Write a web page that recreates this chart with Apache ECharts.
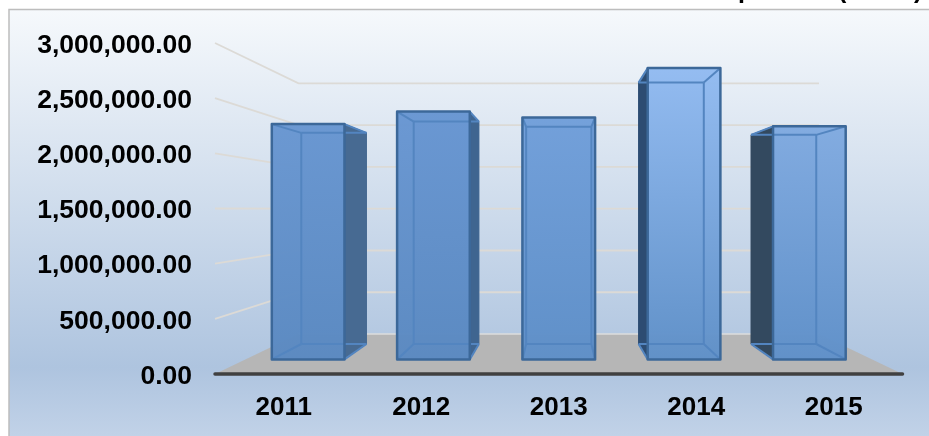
<!DOCTYPE html>
<html>
<head>
<meta charset="utf-8">
<style>html,body{margin:0;padding:0;background:#fff;overflow:hidden}#c{width:929px;height:436px}</style>
<script src="https://cdn.jsdelivr.net/npm/echarts@6/dist/echarts.min.js"></script>
</head>
<body>
<div id="c"></div>
<script>
const categories = ['2011', '2012', '2013', '2014', '2015'];
const values = [2340000, 2465000, 2407000, 2897000, 2318000];
const yTicks = [0, 500000, 1000000, 1500000, 2000000, 2500000, 3000000];

// Style of each bar's faces (top and bottom of the front face, outer side face)
const frontTop = ['#6896d1', '#6896d2', '#719fda', '#92bbf1', '#80aae0'];
const frontBottom = ['#5a89c1', '#5a89c1', '#5e8fc8', '#5f90c8', '#5f90c9'];
const sideColor = ['#476a92', '#3f6590', '#3f6590', '#2d4c72', '#33495f'];

// Oblique projection of the chart's depth
const DEPTH_DROP = 40, BACK_SCALE = 0.757, BAR_FRONT = 0.365, BAR_BACK = 0.75, BAR_WIDTH = 0.58;

function projector(api, params) {
  const cs = params.coordSys;
  const zeroY = api.coord([0, 0])[1];
  const midX = cs.x + cs.width / 2;
  return function (x, y, d) {
    const s = 1 - (1 - BACK_SCALE) * d;
    return [midX + (x - midX) * s, zeroY - DEPTH_DROP * d - (zeroY - y) * s];
  };
}

function renderGrid(params, api) {
  const cs = params.coordSys, P = projector(api, params);
  const y = api.coord([0, api.value(1)])[1];
  const L = cs.x, R = cs.x + cs.width;
  if (api.value(1) === 0) {
    return {
      type: 'group',
      children: [
        { type: 'polygon', shape: { points: [P(L, y, 0), P(L, y, 1), P(R, y, 1), P(R, y, 0)] }, style: { fill: '#b6b6b6' } },
        { type: 'polyline', shape: { points: [P(L, y, 1), P(R, y, 1)] }, style: { stroke: '#dcdcdc', lineWidth: 1.5, fill: null } }
      ]
    };
  }
  return {
    type: 'polyline',
    shape: { points: [P(L, y, 0), P(L, y, 1), P(R, y, 1)] },
    style: { stroke: '#dcdad6', lineWidth: 1.8, fill: null }
  };
}

function renderBar(params, api) {
  const cs = params.coordSys, P = projector(api, params);
  const i = params.dataIndex;
  const pt = api.coord([api.value(0), api.value(1)]);
  const zeroY = api.coord([0, 0])[1];
  const half = api.size([1, 0])[0] * BAR_WIDTH / 2;
  const xl = pt[0] - half, xr = pt[0] + half, yt = pt[1];
  const fBL = P(xl, zeroY, BAR_FRONT), fBR = P(xr, zeroY, BAR_FRONT), fTL = P(xl, yt, BAR_FRONT), fTR = P(xr, yt, BAR_FRONT);
  const bBL = P(xl, zeroY, BAR_BACK), bBR = P(xr, zeroY, BAR_BACK), bTL = P(xl, yt, BAR_BACK), bTR = P(xr, yt, BAR_BACK);
  const edge = '#3c6899', inner = '#5385c0';
  const kids = [];
  kids.push({ type: 'polygon', shape: { points: [bTL, bTR, bBR, bBL] }, style: { fill: 'rgba(90,137,193,0.35)' } });
  if (bBR[0] > fBR[0] + 1) {
    kids.push({ type: 'polygon', shape: { points: [fTR, bTR, bBR, fBR] }, style: { fill: sideColor[i], stroke: sideColor[i], lineWidth: 1, lineJoin: 'round' } });
  }
  if (bBL[0] < fBL[0] - 1) {
    kids.push({ type: 'polygon', shape: { points: [fTL, bTL, bBL, fBL] }, style: { fill: sideColor[i], stroke: sideColor[i], lineWidth: 1, lineJoin: 'round' } });
  }
  kids.push({ type: 'polygon', shape: { points: [fTL, fTR, fBR, fBL] }, style: {
    fill: new echarts.graphic.LinearGradient(0, 0, 0, 1, [
      { offset: 0, color: frontTop[i] }, { offset: 1, color: frontBottom[i] }
    ]), opacity: 0.97
  } });
  // edges of the box seen through the front face
  const seen = [[bTL, bTR], [bBL, bBR], [fTL, bTL], [fTR, bTR], [fBL, bBL], [fBR, bBR]];
  if (bTL[0] >= fTL[0]) seen.push([bTL, bBL]);
  if (bTR[0] <= fTR[0]) seen.push([bTR, bBR]);
  seen.forEach(function (s) {
    kids.push({ type: 'line', shape: { x1: s[0][0], y1: s[0][1], x2: s[1][0], y2: s[1][1] }, style: { stroke: inner, lineWidth: 2 } });
  });
  kids.push({ type: 'polygon', shape: { points: [fTL, fTR, fBR, fBL] }, style: { fill: null, stroke: edge, lineWidth: 2.5, lineJoin: 'round' } });
  return { type: 'group', children: kids };
}

const chart = echarts.init(document.getElementById('c'), null, { renderer: 'canvas' });
chart.setOption({
  animation: false,
  backgroundColor: '#ffffff',
  graphic: [
    { type: 'text', z: -20, x: 738, y: -21.5, style: { text: 'p', font: 'bold 25px "Liberation Sans"', fill: '#000' } },
    { type: 'text', z: -20, x: 838, y: -21.5, style: { text: '(', font: 'bold 25px "Liberation Sans"', fill: '#000' } },
    { type: 'text', z: -20, x: 914, y: -21.5, style: { text: ')', font: 'bold 25px "Liberation Sans"', fill: '#000' } },
    { type: 'rect', z: -10, shape: { x: 9, y: 9.5, width: 930, height: 436 }, style: {
      stroke: '#bdbdbd', lineWidth: 1.5,
      fill: new echarts.graphic.LinearGradient(0, 0, 0, 1, [
        { offset: 0, color: '#f6f9fc' }, { offset: 0.82, color: '#aec4df' }, { offset: 1, color: '#c4d4e9' }
      ])
    } }
  ],
  grid: { left: 215, right: 26.5, top: 43, bottom: 62 },
  xAxis: {
    type: 'category',
    data: categories,
    z: 5,
    axisTick: { show: false },
    axisLine: { lineStyle: { color: '#404040', width: 3.5, cap: 'round' } },
    axisLabel: { color: '#000', fontFamily: 'Liberation Sans', fontWeight: 'bold', fontSize: 26, margin: 21 }
  },
  yAxis: {
    type: 'value',
    min: 0, max: 3000000, interval: 500000,
    axisLine: { show: false }, axisTick: { show: false }, splitLine: { show: false },
    axisLabel: {
      color: '#000', fontFamily: 'Liberation Sans', fontWeight: 'bold', fontSize: 26.5, margin: 23,
      rich: { v: { color: '#000', fontFamily: 'Liberation Sans', fontWeight: 'bold', fontSize: 26.5, padding: [5, 0, 0, 0] } },
      formatter: function (v) { return '{v|' + v.toLocaleString('en-US', { minimumFractionDigits: 2, maximumFractionDigits: 2 }) + '}'; }
    }
  },
  series: [
    { type: 'custom', z: 1, clip: false, silent: true, encode: { x: 0, y: 1 },
      data: yTicks.map(function (v) { return [0, v]; }), renderItem: renderGrid },
    { type: 'custom', z: 2, clip: false, silent: true, encode: { x: 0, y: 1 },
      data: values.map(function (v, i) { return [i, v]; }), renderItem: renderBar }
  ]
});
</script>
</body>
</html>
